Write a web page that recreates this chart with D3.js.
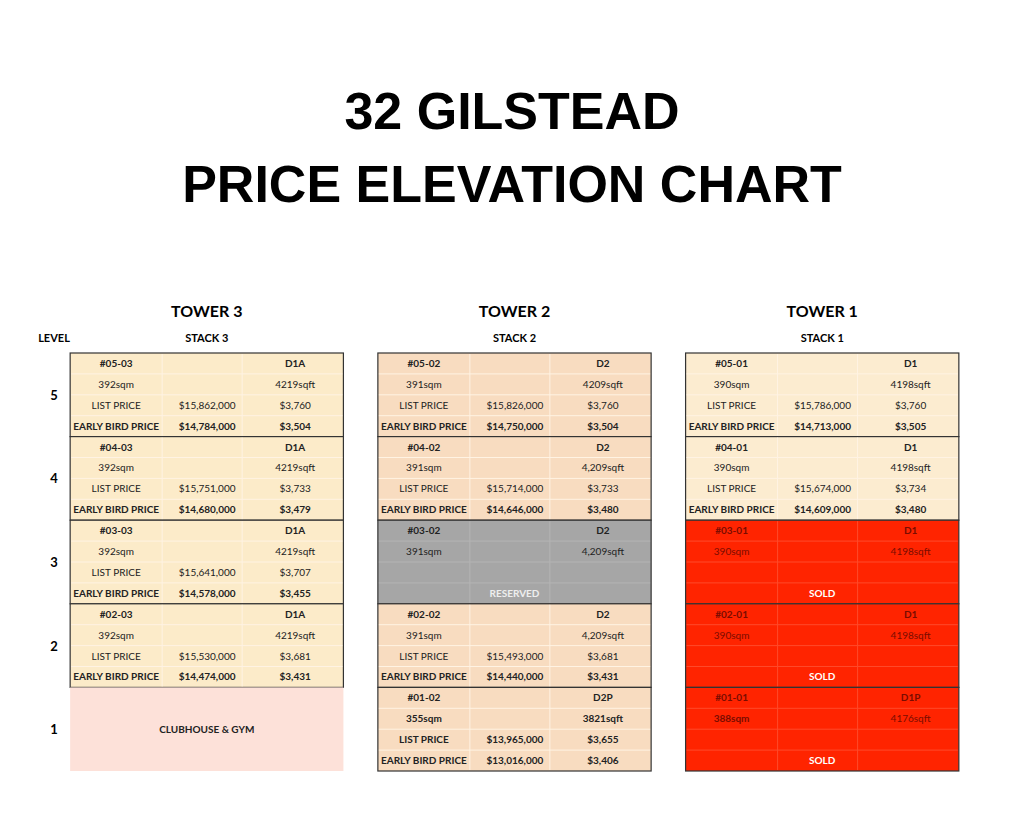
<!DOCTYPE html>
<html><head><meta charset="utf-8">
<script src="https://cdn.jsdelivr.net/npm/d3@7"></script>
<style>body{margin:0;background:#fff}svg{font-family:Lato,"Open Sans",sans-serif}</style>
</head><body><svg width="1024" height="814"></svg>
<script>
const towers = ["TOWER 3", "TOWER 2", "TOWER 1"];
const stacks = ["STACK 3", "STACK 2", "STACK 1"];
const levels = [5, 4, 3, 2, 1];
// unit rows: [tower, level, unit, type, sqm, sqft, list, listPsf, early, earlyPsf, status]
const units = [
  ["TOWER 3", 5, "#05-03", "D1A", "392sqm", "4219sqft", "$15,862,000", "$3,760", "$14,784,000", "$3,504", "open"],
  ["TOWER 3", 4, "#04-03", "D1A", "392sqm", "4219sqft", "$15,751,000", "$3,733", "$14,680,000", "$3,479", "open"],
  ["TOWER 3", 3, "#03-03", "D1A", "392sqm", "4219sqft", "$15,641,000", "$3,707", "$14,578,000", "$3,455", "open"],
  ["TOWER 3", 2, "#02-03", "D1A", "392sqm", "4219sqft", "$15,530,000", "$3,681", "$14,474,000", "$3,431", "open"],
  ["TOWER 3", 1, "", "", "", "", "", "", "", "", "club"],
  ["TOWER 2", 5, "#05-02", "D2", "391sqm", "4209sqft", "$15,826,000", "$3,760", "$14,750,000", "$3,504", "open"],
  ["TOWER 2", 4, "#04-02", "D2", "391sqm", "4,209sqft", "$15,714,000", "$3,733", "$14,646,000", "$3,480", "open"],
  ["TOWER 2", 3, "#03-02", "D2", "391sqm", "4,209sqft", "", "", "", "", "reserved"],
  ["TOWER 2", 2, "#02-02", "D2", "391sqm", "4,209sqft", "$15,493,000", "$3,681", "$14,440,000", "$3,431", "open"],
  ["TOWER 2", 1, "#01-02", "D2P", "355sqm", "3821sqft", "$13,965,000", "$3,655", "$13,016,000", "$3,406", "bold"],
  ["TOWER 1", 5, "#05-01", "D1", "390sqm", "4198sqft", "$15,786,000", "$3,760", "$14,713,000", "$3,505", "open"],
  ["TOWER 1", 4, "#04-01", "D1", "390sqm", "4198sqft", "$15,674,000", "$3,734", "$14,609,000", "$3,480", "open"],
  ["TOWER 1", 3, "#03-01", "D1", "390sqm", "4198sqft", "", "", "", "", "sold"],
  ["TOWER 1", 2, "#02-01", "D1", "390sqm", "4198sqft", "", "", "", "", "sold"],
  ["TOWER 1", 1, "#01-01", "D1P", "388sqm", "4176sqft", "", "", "", "", "sold"]
];
const towerFill = {"TOWER 3": "#fcebc9", "TOWER 2": "#f8dcc0", "TOWER 1": "#fcecd0"};

const svg = d3.select("svg");
const x = d3.scaleBand().domain(towers).range([64, 965]).paddingInner(0.112).paddingOuter(0.02);
const y = d3.scaleBand().domain(levels).range([353, 771]);
const sub = d3.scaleBand().domain([0, 1, 2, 3]).range([0, y.bandwidth()]);
const colX = [46, 137, 225];

svg.append("text").attr("x", 512).attr("y", 129).attr("text-anchor", "middle")
  .attr("font-family", "Liberation Sans, Arial").attr("font-weight", "bold").attr("font-size", 52).text("32 GILSTEAD");
svg.append("text").attr("x", 512).attr("y", 202).attr("text-anchor", "middle")
  .attr("font-family", "Liberation Sans, Arial").attr("font-weight", "bold").attr("font-size", 52).text("PRICE ELEVATION CHART");

svg.selectAll(".th").data(towers).join("text").attr("class", "th")
  .attr("x", d => x(d) + x.bandwidth() / 2).attr("y", 317).attr("text-anchor", "middle")
  .attr("font-weight", "bold").attr("font-size", 16).text(d => d);
svg.selectAll(".sh").data(stacks).join("text").attr("class", "sh")
  .attr("x", (d, i) => x(towers[i]) + x.bandwidth() / 2).attr("y", 342).attr("text-anchor", "middle")
  .attr("font-weight", "bold").attr("font-size", 11).text(d => d);
svg.append("text").attr("x", 54).attr("y", 342).attr("text-anchor", "middle")
  .attr("font-weight", "bold").attr("font-size", 11).text("LEVEL");
svg.selectAll(".lv").data(levels).join("text").attr("class", "lv")
  .attr("x", 54).attr("y", d => y(d) + y.bandwidth() / 2 + 5).attr("text-anchor", "middle")
  .attr("font-weight", "bold").attr("font-size", 13).text(d => d);

const g = svg.selectAll(".unit").data(units).join("g").attr("class", "unit")
  .attr("transform", d => `translate(${x(d[0])},${y(d[1])})`);

g.append("rect").attr("width", x.bandwidth()).attr("height", y.bandwidth())
  .attr("fill", d => d[10] === "club" ? "#fde1d9" : d[10] === "reserved" ? "#a6a6a6" : d[10] === "sold" ? "#ff2400" : towerFill[d[0]])
  .attr("stroke", d => d[10] === "club" ? "none" : "#333").attr("stroke-width", 1.2);

// faint grid inside cells
g.filter(d => d[10] !== "club").each(function(d) {
  const c = d3.select(this), w = x.bandwidth();
  const line = d[10] === "sold" ? "#ff4a2a" : d[10] === "reserved" ? "#b4b4b4" : "#fff3e3";
  [1, 2, 3].forEach(k => c.append("line").attr("x1", 1).attr("x2", w - 1)
    .attr("y1", sub(k)).attr("y2", sub(k)).attr("stroke", line));
  [92, 172].forEach(v => c.append("line").attr("x1", v).attr("x2", v)
    .attr("y1", 1).attr("y2", y.bandwidth() - 1).attr("stroke", line));
});

g.filter(d => d[10] === "club").append("text")
  .attr("x", x.bandwidth() / 2).attr("y", y.bandwidth() / 2 + 4).attr("text-anchor", "middle")
  .attr("font-weight", "bold").attr("font-size", 10).attr("fill", "#222").text("CLUBHOUSE & GYM");

g.filter(d => d[10] !== "club").each(function(d) {
  const c = d3.select(this);
  const sold = d[10] === "sold", bold = d[10] === "bold";
  const dark = sold ? "#7a0c00" : "#222";
  const cells = [
    [0, 0, d[2], true], [0, 2, d[3], true],
    [1, 0, d[4], bold || (sold && d[1] === 1)], [1, 2, d[5], bold],
    [2, 0, d[6] ? "LIST PRICE" : "", bold], [2, 1, d[6], bold], [2, 2, d[7], bold],
    [3, 0, d[8] ? "EARLY BIRD PRICE" : "", true], [3, 1, d[8], true], [3, 2, d[9], true]
  ];
  cells.filter(e => e[2]).forEach(e => c.append("text")
    .attr("x", colX[e[1]]).attr("y", sub(e[0]) + sub.bandwidth() / 2 + 3.5)
    .attr("text-anchor", "middle").attr("font-size", 10).attr("font-weight", e[3] ? "bold" : "normal")
    .attr("fill", dark).text(e[2]));
  if (sold || d[10] === "reserved") c.append("text").attr("x", x.bandwidth() / 2)
    .attr("y", sub(3) + sub.bandwidth() / 2 + 3.5).attr("text-anchor", "middle")
    .attr("font-size", 10).attr("font-weight", "bold").attr("fill", sold ? "#fff" : "#eee")
    .text(sold ? "SOLD" : "RESERVED");
});
</script></body></html>
